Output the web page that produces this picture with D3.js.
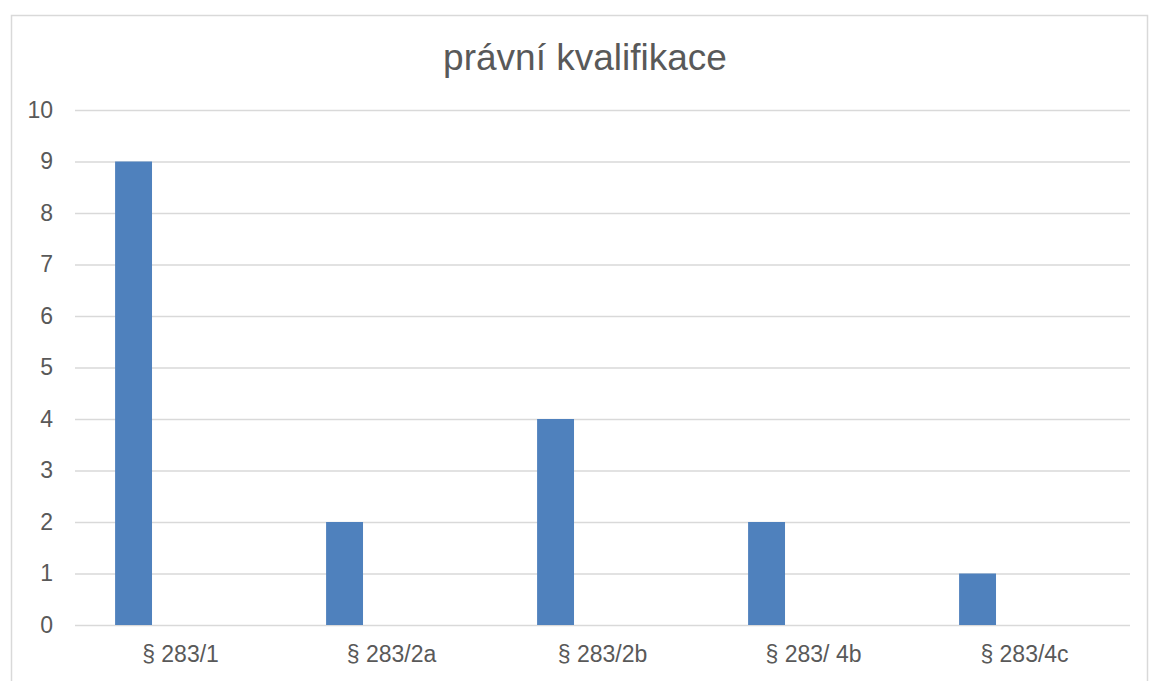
<!DOCTYPE html>
<html>
<head>
<meta charset="utf-8">
<script src="https://cdn.jsdelivr.net/npm/d3@7"></script>
<style>
  html, body { margin: 0; padding: 0; background: #fff; }
  text { font-family: "Liberation Sans", Arial, sans-serif; fill: #595959; }
</style>
</head>
<body>
<svg id="chart" width="1149" height="681"></svg>
<script>
// data
var categories = ['§ 283/1', '§ 283/2a', '§ 283/2b', '§ 283/ 4b', '§ 283/4c'],
    values = [9, 2, 4, 2, 1],
    yTicks = [0, 1, 2, 3, 4, 5, 6, 7, 8, 9, 10],
    title = 'právní kvalifikace';

var svg = d3.select('#chart'),
    width = +svg.attr('width'),
    height = +svg.attr('height'),
    plot = { left: 75, right: 1130, top: 110, bottom: 625 };

// chart frame (bottom edge runs off the picture)
svg.append('rect')
  .attr('x', 11.5).attr('y', 15.5)
  .attr('width', 1136).attr('height', 720)
  .attr('fill', 'none')
  .attr('stroke', '#d9d9d9')
  .attr('stroke-width', 1.5);

var x = d3.scaleBand()
    .domain(categories)
    .range([plot.left, plot.right])
    .padding(0);

var y = d3.scaleLinear()
    .domain([0, 10])
    .range([plot.bottom, plot.top]);

// gridlines + y labels
var yAxis = svg.append('g')
  .attr('transform', 'translate(' + plot.left + ',0)')
  .call(d3.axisLeft(y).tickValues(yTicks).tickSize(-(plot.right - plot.left)).tickPadding(22));

yAxis.select('.domain').remove();
yAxis.selectAll('.tick line')
  .attr('stroke', '#d9d9d9')
  .attr('stroke-width', 1.5);
yAxis.selectAll('.tick text')
  .attr('fill', '#595959')
  .style('font-size', '23px')
  .style('font-family', '"Liberation Sans", Arial, sans-serif');

// bars sit left of the band centre (empty second series in the original)
var bw = x.bandwidth();
svg.append('g')
  .selectAll('rect')
  .data(values)
  .enter().append('rect')
  .attr('x', function(d, i) { return x(categories[i]) + bw * 0.19; })
  .attr('y', function(d) { return y(d); })
  .attr('width', bw * 0.175)
  .attr('height', function(d) { return y(0) - y(d); })
  .attr('fill', '#4f81bd');

// x axis labels
var xAxis = svg.append('g')
  .attr('transform', 'translate(0,' + plot.bottom + ')')
  .call(d3.axisBottom(x).tickSize(0).tickPadding(21));

xAxis.select('.domain').remove();
xAxis.selectAll('.tick text')
  .attr('fill', '#595959')
  .style('font-size', '23px')
  .style('font-family', '"Liberation Sans", Arial, sans-serif');

// title
svg.append('text')
  .attr('x', 585)
  .attr('y', 70)
  .attr('text-anchor', 'middle')
  .style('font-size', '37px')
  .text(title);
</script>
</body>
</html>
